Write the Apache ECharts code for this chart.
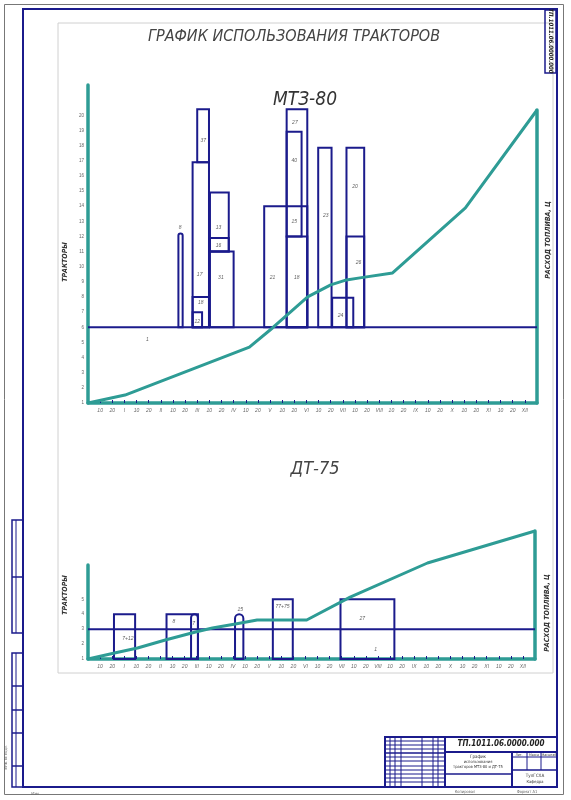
<!DOCTYPE html>
<html>
<head>
<meta charset="utf-8">
<script src="https://cdn.jsdelivr.net/npm/echarts@6/dist/echarts.min.js"></script>
<style>
html,body{margin:0;padding:0;background:#fff;}
#chart{width:571px;height:800px;}
</style>
</head>
<body>
<div id="chart"></div>
<script>
// ---------- DATA ----------
const decadeLabels = ['10', '20'];
const monthLabels = ['I','II','III','IV','V','VI','VII','VIII','IX','X','XI','XII'];

// МТЗ-80: tractor-use blocks [startDecade, endDecade, fromTractors, toTractors]
const mtzBlocks = [
  [7.45, 7.8, 5, 11.2],
  [8.62, 9.97, 5, 15.9],
  [9.0, 9.97, 15.9, 19.4],
  [8.62, 9.97, 5, 7.0],
  [8.62, 9.4, 5, 6.0],
  [10.05, 11.6, 10, 13.9],
  [10.05, 11.6, 10, 10.9],
  [10.05, 12.0, 5, 10],
  [14.52, 18.07, 5, 13],
  [16.37, 18.07, 5, 19.4],
  [16.37, 17.6, 11, 17.92],
  [16.37, 18.07, 5, 11],
  [18.97, 20.07, 5, 16.86],
  [20.12, 21.86, 5, 6.95],
  [21.3, 22.76, 5, 16.86],
  [21.3, 22.76, 5, 11]
];
const mtzBase = [[0, 5], [37, 5]];
const mtzOpLabels = [
  [7.6, 11.6, '8'], [9.5, 17.3, '37'], [9.2, 8.5, '17'], [9.3, 6.6, '18'], [9.0, 5.4, '12'],
  [10.75, 11.6, '13'], [10.75, 10.4, '16'], [10.95, 8.3, '31'], [15.2, 8.3, '21'],
  [17.2, 8.3, '18'], [17.0, 12.0, '15'], [17.0, 16.0, '40'], [17.05, 18.5, '27'],
  [19.6, 12.4, '23'], [22.0, 14.3, '20'], [22.3, 9.3, '26'], [20.8, 5.8, '24'], [4.9, 4.2, '1']
];
// МТЗ-80 cumulative fuel (% of season total)
const mtzFuel = [
  [0, 0], [3.05, 2.7], [13.3, 19.1], [15.2, 25.6], [18.1, 36.2], [20.0, 40.3], [21.3, 42.0],
  [22.4, 42.7], [25.1, 44.4], [31.1, 66.6], [37, 100]
];

// ДТ-75
const dtBlocks = [
  [2.15, 3.9, 0, 3],
  [6.5, 9.1, 0, 3],
  [8.53, 9.1, 0, 3],
  [12.17, 12.86, 0, 3],
  [15.3, 16.95, 0, 4],
  [20.9, 25.36, 0, 4]
];
const dtBase = [[0, 2], [37, 2]];
const dtOpLabels = [
  [3.3, 1.35, '7+12'], [7.1, 2.5, '8'], [8.75, 2.4, '7'], [12.6, 3.3, '15'],
  [16.1, 3.5, '77+75'], [22.7, 2.7, '27'], [23.8, 0.6, '1']
];
const dtFuel = [
  [0, 0], [2.2, 4.7], [4.1, 8.6], [6.4, 14.8], [8.9, 21.1], [10.3, 24.2], [12.2, 27.3],
  [14.0, 30.5], [18.1, 30.5], [21.7, 48.4], [28.1, 75.0], [37, 100]
];

// ---------- STYLE ----------
const TEAL = '#2e9c95';
const NAVY = '#1b1b8c';
const FONT = '"Liberation Sans Narrow","DejaVu Sans Condensed","Liberation Sans",sans-serif';

const tickLabels = [''];
for (let m = 0; m < 12; m++) { tickLabels.push(decadeLabels[0], decadeLabels[1], monthLabels[m]); }
tickLabels.push('');

function xAxisShown(grid) {
  return {
    type: 'value', gridIndex: grid, min: 0, max: 37, interval: 1,
    axisLine: { show: true, lineStyle: { color: TEAL, width: 3.5 } },
    axisTick: { show: true, inside: true, length: 3, lineStyle: { color: NAVY, width: 1 } },
    axisLabel: { show: true, fontSize: 5, color: '#666', fontStyle: 'italic', margin: 5,
      formatter: v => tickLabels[Math.round(v)] || '' , showMinLabel: false, showMaxLabel: false },
    splitLine: { show: false }
  };
}
function xAxisHidden(grid) {
  return { type: 'value', gridIndex: grid, min: 0, max: 37, show: false, splitLine: { show: false } };
}
function yTractors(grid, max, lastLabel) {
  return {
    type: 'value', gridIndex: grid, min: 0, max: max, interval: 1, position: 'left',
    axisLine: { show: true, onZero: false, lineStyle: { color: TEAL, width: 3.5 } },
    axisTick: { show: false },
    axisLabel: { show: true, fontSize: 4.5, color: '#666', margin: 4,
      formatter: v => (v <= lastLabel ? String(v + 1) : '') , showMaxLabel: false },
    splitLine: { show: false }
  };
}
function yFuel(grid) {
  return {
    type: 'value', gridIndex: grid, min: 0, max: 100, position: 'right',
    axisLine: { show: true, onZero: false, lineStyle: { color: TEAL, width: 3.5 } },
    axisTick: { show: false }, axisLabel: { show: false }, splitLine: { show: false }
  };
}

function renderBlock(params, api) {
  const x0 = api.value(0), x1 = api.value(1), y0 = api.value(2), y1 = api.value(3);
  const p0 = api.coord([x0, y0]);
  const p1 = api.coord([x1, y1]);
  const w = p1[0] - p0[0];
  const h = p0[1] - p1[1];
  const r = (x1 - x0) < 0.72 ? [w / 2, w / 2, 0, 0] : 0;
  return {
    type: 'rect',
    shape: { x: p0[0], y: p1[1], width: w, height: h, r: r },
    style: { fill: 'none', stroke: NAVY, lineWidth: 2 }
  };
}

function blockSeries(data, xi, yi) {
  return { type: 'custom', xAxisIndex: xi, yAxisIndex: yi, data: data, renderItem: renderBlock,
    encode: { x: [0, 1], y: [2, 3] }, z: 3, silent: true };
}
function baseSeries(data, xi, yi) {
  return { type: 'line', xAxisIndex: xi, yAxisIndex: yi, data: data, symbol: 'none',
    lineStyle: { color: NAVY, width: 2 }, z: 3, silent: true };
}
function labelSeries(data, xi, yi) {
  return { type: 'scatter', xAxisIndex: xi, yAxisIndex: yi, data: data, symbolSize: 0, z: 5,
    label: { show: true, position: 'inside', formatter: p => p.value[2], fontSize: 5,
      fontStyle: 'italic', color: '#333' }, silent: true };
}
function fuelSeries(data, xi, yi) {
  return { type: 'line', xAxisIndex: xi, yAxisIndex: yi, data: data, symbol: 'none',
    smooth: false,
    lineStyle: { color: TEAL, width: 3, join: 'round' }, z: 4, silent: true };
}

// ---------- DECORATION (drawing frame & title block) ----------
function L(x1, y1, x2, y2, w, c) {
  return { type: 'line', shape: { x1, y1, x2, y2 }, style: { stroke: c || NAVY, lineWidth: w || 1 }, silent: true };
}
function R(x, y, w, h, lw, c) {
  return { type: 'rect', shape: { x, y, width: w, height: h }, style: { fill: 'none', stroke: c || NAVY, lineWidth: lw || 1 }, silent: true };
}
function T(text, x, y, size, opts) {
  opts = opts || {};
  return { type: 'text', x: x, y: y, rotation: opts.rot || 0, silent: true,
    style: { text: text, fill: opts.color || '#333',
      font: (opts.style || 'italic') + ' ' + (opts.weight || 'normal') + ' ' + size + 'px ' + FONT,
      textAlign: 'center', textVerticalAlign: 'middle', align: 'center', verticalAlign: 'middle' } };
}

const deco = [
  R(4.5, 4.5, 559, 790, 1, '#777'),
  R(23, 9, 534, 778, 2),
  R(58, 23, 495, 650, 1, '#d0d0d0'),
  // top-right stamp
  R(545, 10, 11, 63, 1.5),
  T('ТП.1011.06.0000.000', 550.5, 41, 6, { rot: -Math.PI / 2, weight: 'bold', color: '#222' }),
  // left side blocks
  R(12, 520, 11, 113, 1.5), L(12, 577, 23, 577, 1.5), L(16, 520, 16, 633, 1),
  R(12, 653, 11, 134, 1.5), L(12, 686, 23, 686, 1.5), L(12, 710, 23, 710, 1.5),
  L(12, 733, 23, 733, 1.5), L(12, 766, 23, 766, 1.5), L(16, 653, 16, 787, 1),
  T('Инв. № подл.', 6, 757, 4, { rot: Math.PI / 2, color: '#666', style: 'normal' }),
  T('Изм', 35, 794, 4, { color: '#666', style: 'normal' }),
  // title block
  R(385, 737, 172, 50, 2),
  L(390, 737, 390, 787), L(395, 737, 395, 787), L(401, 737, 401, 787), L(422, 737, 422, 787),
  L(433, 737, 433, 787), L(438, 737, 438, 787), L(445, 737, 445, 787, 2),
  L(385, 741, 445, 741), L(385, 745, 445, 745), L(385, 749, 445, 749), L(385, 753, 445, 753, 1.5),
  L(385, 757, 445, 757), L(385, 761, 445, 761), L(385, 766, 445, 766), L(385, 770, 445, 770),
  L(385, 774, 445, 774), L(385, 778, 445, 778), L(385, 782, 445, 782),
  L(445, 752, 557, 752, 2), L(512, 752, 512, 787, 2),
  L(512, 757, 557, 757), L(512, 770, 557, 770, 1.5), L(445, 774, 512, 774, 1.5),
  L(527, 752, 527, 770), L(541, 752, 541, 770),
  T('ТП.1011.06.0000.000', 501, 744, 8, { weight: 'bold', color: '#222' }),
  T('График', 478, 757, 4.5, { style: 'normal' }),
  T('использования', 478, 762, 4, { style: 'normal' }),
  T('тракторов МТЗ-80 и ДТ-75', 478, 767, 4, { style: 'normal' }),
  T('Лит.', 519, 755, 3.5, { style: 'normal' }), T('Масса', 534, 755, 3.5, { style: 'normal' }),
  T('Масштаб', 549, 755, 3.5, { style: 'normal' }),
  T('ТулГСХА', 535, 776, 4.5, { style: 'normal' }), T('Кафедра', 535, 782, 4, { style: 'normal' }),
  T('Копировал', 465, 792, 4, { style: 'normal', color: '#666' }),
  T('Формат А1', 527, 792, 4, { style: 'normal', color: '#666' }),
  // axis titles
  T('ТРАКТОРЫ', 65, 262, 7, { rot: Math.PI / 2, weight: 'bold', color: '#333' }),
  T('РАСХОД ТОПЛИВА, Ц', 548, 240, 7, { rot: Math.PI / 2, weight: 'bold', color: '#333' }),
  T('ТРАКТОРЫ', 65, 595, 7, { rot: Math.PI / 2, weight: 'bold', color: '#333' }),
  T('РАСХОД ТОПЛИВА, Ц', 547, 613, 7, { rot: Math.PI / 2, weight: 'bold', color: '#333' })
];

// ---------- CHART ----------
const chart = echarts.init(document.getElementById('chart'), null, { renderer: 'canvas' });
chart.setOption({
  animation: false,
  backgroundColor: '#fff',
  title: [
    { text: 'ГРАФИК ИСПОЛЬЗОВАНИЯ ТРАКТОРОВ', left: 289, top: 24, textAlign: 'center',
      textStyle: { fontFamily: FONT, fontStyle: 'italic', fontWeight: 'normal', fontSize: 16, color: '#444' } },
    { text: 'МТЗ-80', left: 300, top: 86, textAlign: 'center',
      textStyle: { fontFamily: FONT, fontStyle: 'italic', fontWeight: 'normal', fontSize: 19, color: '#333' } },
    { text: 'ДТ-75', left: 310, top: 455, textAlign: 'center',
      textStyle: { fontFamily: FONT, fontStyle: 'italic', fontWeight: 'normal', fontSize: 18, color: '#444' } }
  ],
  grid: [
    { left: 88, right: 34, top: 85, bottom: 397 },
    { left: 88, right: 34, top: 110, bottom: 397 },
    { left: 88, right: 36, top: 565, bottom: 141 },
    { left: 88, right: 36, top: 531, bottom: 141 }
  ],
  xAxis: [xAxisShown(0), xAxisHidden(1), xAxisShown(2), xAxisHidden(3)],
  yAxis: [yTractors(0, 21, 19), yFuel(1), yTractors(2, 6.3, 4), yFuel(3)],
  series: [
    blockSeries(mtzBlocks, 0, 0),
    baseSeries(mtzBase, 0, 0),
    labelSeries(mtzOpLabels, 0, 0),
    fuelSeries(mtzFuel, 1, 1),
    blockSeries(dtBlocks, 2, 2),
    baseSeries(dtBase, 2, 2),
    labelSeries(dtOpLabels, 2, 2),
    fuelSeries(dtFuel, 3, 3)
  ],
  graphic: { elements: deco }
});
</script>
</body>
</html>
